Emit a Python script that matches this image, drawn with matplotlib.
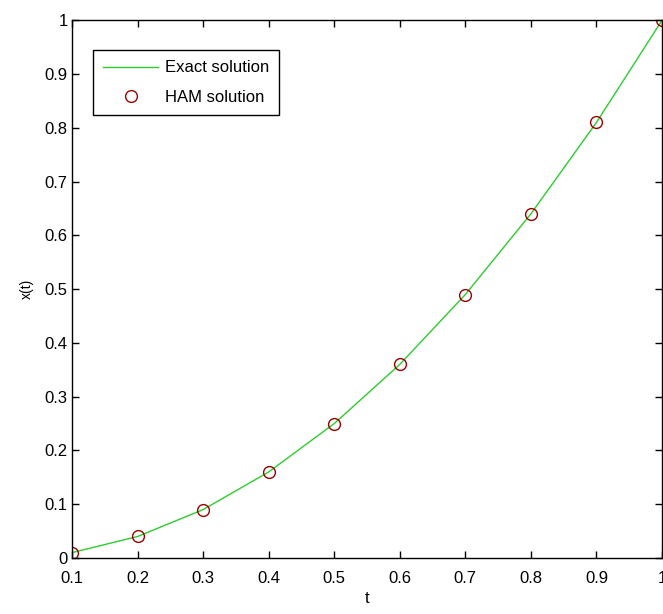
import matplotlib
matplotlib.use('Agg')
import matplotlib.pyplot as plt

# data
t = [0.1, 0.2, 0.3, 0.4, 0.5, 0.6, 0.7, 0.8, 0.9, 1.0]
x_exact = [0.01, 0.04, 0.09, 0.16, 0.25, 0.36, 0.49, 0.64, 0.81, 1.0]
x_ham = [0.01, 0.04, 0.09, 0.16, 0.25, 0.36, 0.49, 0.64, 0.81, 1.0]

xticks = [0.1, 0.2, 0.3, 0.4, 0.5, 0.6, 0.7, 0.8, 0.9, 1.0]
xtick_labels = ['0.1', '0.2', '0.3', '0.4', '0.5', '0.6', '0.7', '0.8', '0.9', '1']
yticks = [0, 0.1, 0.2, 0.3, 0.4, 0.5, 0.6, 0.7, 0.8, 0.9, 1.0]
ytick_labels = ['0', '0.1', '0.2', '0.3', '0.4', '0.5', '0.6', '0.7', '0.8', '0.9', '1']

plt.rcParams['font.family'] = ['Liberation Sans Narrow', 'Liberation Sans', 'DejaVu Sans']

fig = plt.figure(figsize=(6.63, 6.14), dpi=100)
ax = fig.add_axes([0.1086, 0.0912, 0.8899, 0.8758])

ax.plot(t, x_exact, color='#2ecc2e', linewidth=1.0, label='Exact solution')
ax.plot(t, x_ham, linestyle='none', marker='o', markersize=8.5,
        markerfacecolor='none', markeredgecolor='#990000', markeredgewidth=1.0,
        label='HAM solution')

ax.set_xlim(0.1, 1.0)
ax.set_ylim(0, 1)
ax.set_xticks(xticks)
ax.set_xticklabels(xtick_labels)
ax.set_yticks(yticks)
ax.set_yticklabels(ytick_labels)
ax.tick_params(direction='in', top=True, right=True, length=5, width=1,
               labelsize=12, pad=3)
ax.tick_params(axis='x', pad=9)
for s in ax.spines.values():
    s.set_linewidth(1.0)

ax.set_xlabel('t', fontsize=12, labelpad=4)
ax.set_ylabel('x(t)', fontsize=10, labelpad=8)

leg = ax.legend(loc='upper left', bbox_to_anchor=(0.0356, 0.944), fontsize=12,
                borderaxespad=0, fancybox=False, framealpha=1, edgecolor='black',
                handlelength=3.3, handletextpad=0.4, borderpad=0.6,
                labelspacing=0.85)
leg.get_frame().set_linewidth(1.0)

fig.savefig('out.png', dpi=100)
